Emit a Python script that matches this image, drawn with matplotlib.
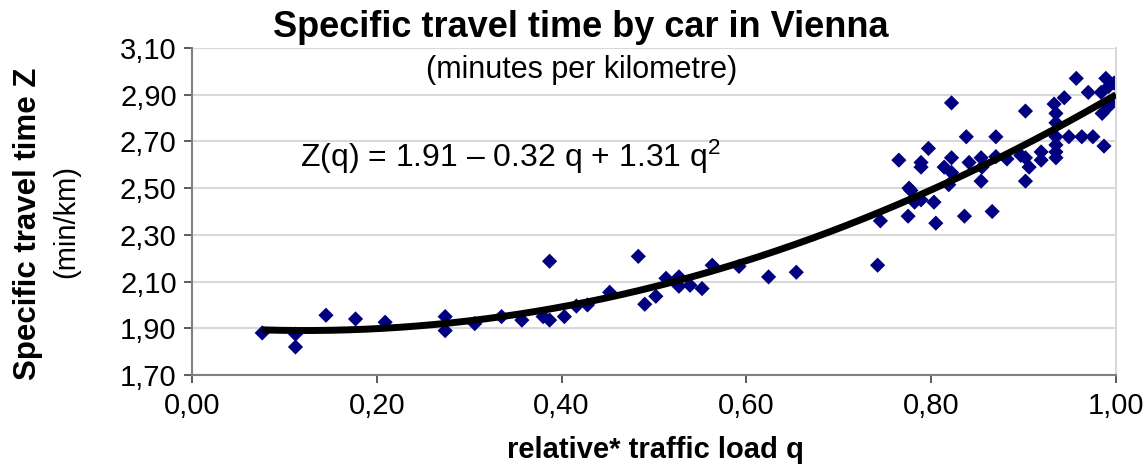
import numpy as np
import matplotlib
matplotlib.use("Agg")
import matplotlib.pyplot as plt

plt.rcParams['font.family'] = ['Liberation Sans', 'DejaVu Sans']
plt.rcParams['mathtext.fontset'] = 'custom'
plt.rcParams['mathtext.rm'] = 'Liberation Sans'
plt.rcParams['mathtext.it'] = 'Liberation Sans'
plt.rcParams['mathtext.bf'] = 'Liberation Sans:bold'

# ---- data ----
q_values = [0.076, 0.112, 0.112, 0.145, 0.177, 0.209, 0.274, 0.274, 0.306, 0.335,
            0.357, 0.380, 0.387, 0.387, 0.403, 0.416, 0.428, 0.452, 0.483, 0.490,
            0.502, 0.513, 0.527, 0.527, 0.539, 0.552, 0.563, 0.592, 0.624, 0.654,
            0.742, 0.745, 0.765, 0.775, 0.776, 0.778, 0.782, 0.789, 0.789, 0.789,
            0.797, 0.803, 0.805, 0.814, 0.819, 0.822, 0.822, 0.822, 0.836, 0.838,
            0.841, 0.854, 0.854, 0.855, 0.866, 0.870, 0.870, 0.882, 0.897, 0.902,
            0.902, 0.902, 0.906, 0.919, 0.919, 0.933, 0.935, 0.935, 0.935, 0.935,
            0.935, 0.935, 0.944, 0.949, 0.957, 0.963, 0.970, 0.975, 0.984, 0.985,
            0.987, 0.989, 0.992, 0.994, 0.998, 0.992]
z_values = [1.880, 1.820, 1.875, 1.956, 1.940, 1.926, 1.950, 1.890, 1.920, 1.950,
            1.935, 1.950, 1.935, 2.187, 1.950, 1.995, 2.000, 2.054, 2.208, 2.003,
            2.037, 2.114, 2.120, 2.080, 2.084, 2.070, 2.170, 2.165, 2.120, 2.140,
            2.170, 2.360, 2.620, 2.380, 2.500, 2.490, 2.440, 2.450, 2.610, 2.590,
            2.670, 2.440, 2.350, 2.590, 2.515, 2.630, 2.865, 2.567, 2.380, 2.720,
            2.610, 2.630, 2.530, 2.590, 2.400, 2.720, 2.635, 2.625, 2.640, 2.830,
            2.630, 2.530, 2.590, 2.655, 2.620, 2.860, 2.820, 2.780, 2.720, 2.685,
            2.655, 2.630, 2.887, 2.720, 2.970, 2.720, 2.910, 2.720, 2.910, 2.820,
            2.680, 2.970, 2.935, 2.865, 2.950, 2.850]

fit_coeffs = [1.91, -0.32, 1.31]   # Z(q) = a + b q + c q^2
fit_range = [0.076, 1.0]

x_ticks = [0.0, 0.2, 0.4, 0.6, 0.8, 1.0]
x_tick_labels = ["0,00", "0,20", "0,40", "0,60", "0,80", "1,00"]
y_ticks = [1.70, 1.90, 2.10, 2.30, 2.50, 2.70, 2.90, 3.10]
y_tick_labels = ["1,70", "1,90", "2,10", "2,30", "2,50", "2,70", "2,90", "3,10"]

title = "Specific travel time by car in Vienna"
subtitle = "(minutes per kilometre)"
equation = "Z(q) = 1.91 \u2013 0.32 q + 1.31 q$^{2}$"
ylabel_main = "Specific travel time Z"
ylabel_unit = "(min/km)"
xlabel = "relative* traffic load q"

# ---- figure ----
fig = plt.figure(figsize=(11.48, 4.67), dpi=100)
ax = fig.add_axes([192/1148, 1-375/467, (1116-192)/1148, (375-48)/467])

ax.set_xlim(0, 1.0)
ax.set_ylim(1.70, 3.10)

for yv in y_ticks:
    ax.axhline(yv, color="#d9d9d9", lw=1.5, zorder=0)

ax.scatter(q_values, z_values, marker="D", s=60, color="#000080",
           edgecolors="none", zorder=2)

qq = np.linspace(fit_range[0], fit_range[1], 200)
zz = fit_coeffs[0] + fit_coeffs[1]*qq + fit_coeffs[2]*qq**2
ax.plot(qq, zz, color="black", lw=5, solid_capstyle="butt", zorder=3)

ax.set_xticks(x_ticks)
ax.set_xticklabels(x_tick_labels)
ax.set_yticks(y_ticks)
ax.set_yticklabels(y_tick_labels)
ax.tick_params(axis="both", labelsize=21, direction="out", length=6,
               width=1.2, color="#404040")
ax.tick_params(axis="x", pad=6)
ax.tick_params(axis="y", pad=5)

for s in ["left", "bottom"]:
    ax.spines[s].set_color("#808080")
    ax.spines[s].set_linewidth(1.5)
ax.spines["top"].set_visible(False)
ax.spines["right"].set_color("#d9d9d9")
ax.spines["right"].set_linewidth(1.5)

fig.text(0.506, 0.942, title, ha="center", va="center", fontsize=26, fontweight="bold")
fig.text(0.507, 0.850, subtitle, ha="center", va="center", fontsize=22)
ax.text(0.117, 2.635, equation, ha="left", va="center", fontsize=23)

fig.text(0.024, 0.52, ylabel_main, rotation=90, ha="center", va="center",
         fontsize=22.5, fontweight="bold")
fig.text(0.058, 0.525, ylabel_unit, rotation=90, ha="center", va="center", fontsize=21)
fig.text(0.571, 0.036, xlabel, ha="center", va="center", fontsize=21, fontweight="bold")

fig.savefig("out.png", dpi=100)
